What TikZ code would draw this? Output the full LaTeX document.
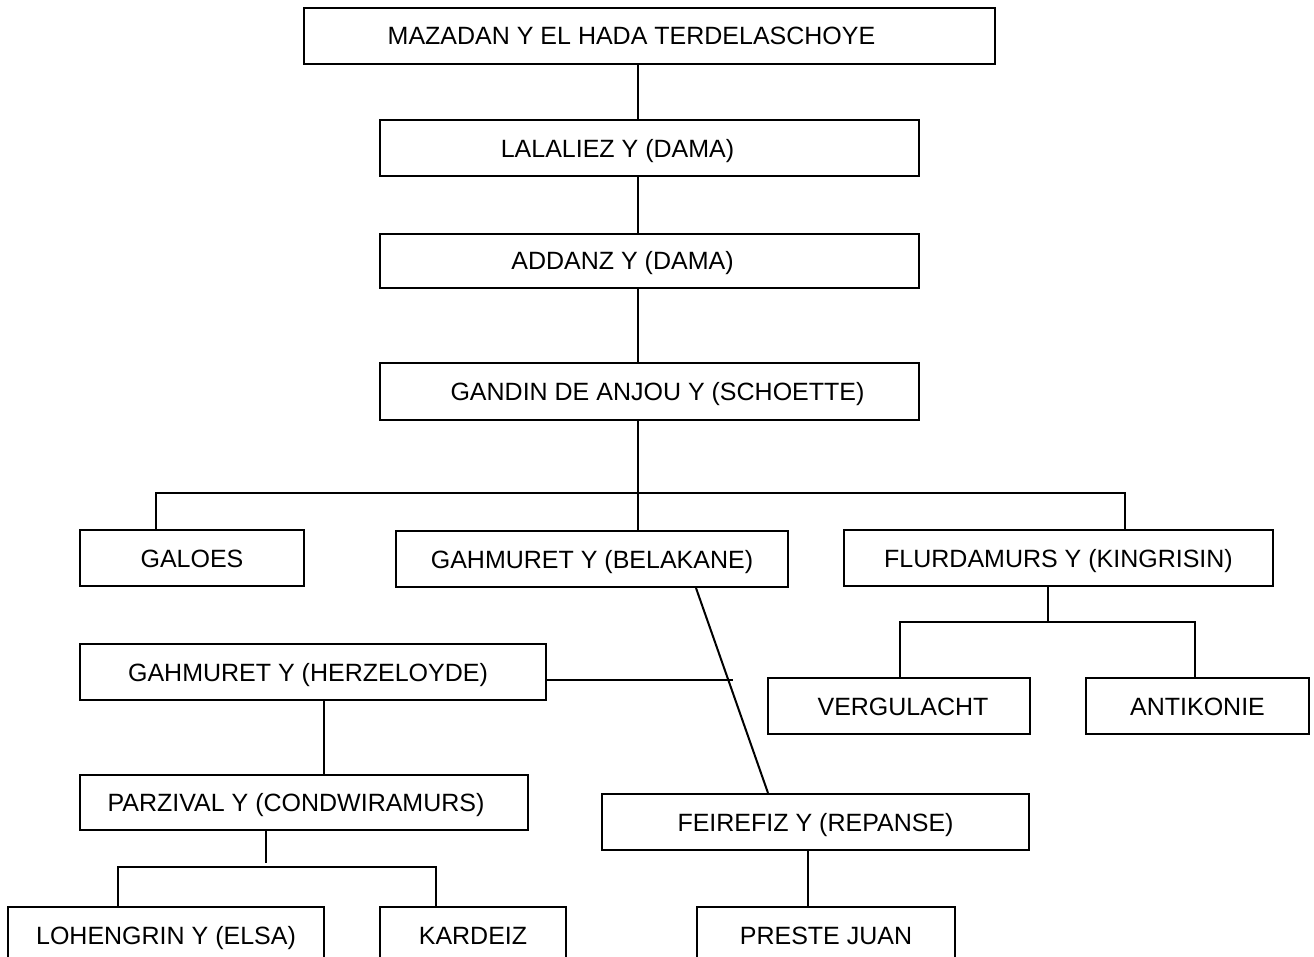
\documentclass[tikz,border=0pt]{standalone}
\usepackage{fontspec}
\setmainfont{Liberation Sans}
\usetikzlibrary{positioning}
\tikzset{
  person/.style = {draw, line width=2pt, inner sep=0pt, minimum height=56pt,
                   text height=18pt, text depth=0pt,
                   font=\fontsize{25}{30}\selectfont},
  link/.style   = {line width=2pt},
}

\begin{document}
\begin{tikzpicture}[x=1pt, y=-1pt]
  \useasboundingbox (0,0) rectangle (1314,957);

  % line of Mazadan
  \node[person, minimum width=691pt] (mazadan)  at (649.5,36)  {\hspace*{-36pt}MAZADAN Y EL HADA TERDELASCHOYE};
  \node[person, minimum width=539pt] (lalaliez) at (649.5,148.5) {\hspace*{-64pt}LALALIEZ Y (DAMA)};
  \node[person, minimum width=539pt, minimum height=54pt] (addanz) at (649.5,261) {\hspace*{-54pt}ADDANZ Y (DAMA)};
  \node[person, minimum width=539pt] (gandin)   at (649.5,391.5) {\hspace*{16pt}GANDIN DE ANJOU Y (SCHOETTE)};

  % children of Gandin
  \node[person, minimum width=224pt] (galoes)     at (192,558)    {GALOES};
  \node[person, minimum width=392pt] (belakane)   at (592,559)    {GAHMURET Y (BELAKANE)};
  \node[person, minimum width=429pt] (flurdamurs) at (1058.5,558) {FLURDAMURS Y (KINGRISIN)};

  % next generation
  \node[person, minimum width=466pt] (herzeloyde) at (313,672)    {\hspace*{-10pt}GAHMURET Y (HERZELOYDE)};
  \node[person, minimum width=262pt] (vergulacht) at (899,706)    {\hspace*{8pt}VERGULACHT};
  \node[person, minimum width=223pt] (antikonie)  at (1197.5,706) {ANTIKONIE};
  \node[person, minimum width=448pt, minimum height=55pt] (parzival) at (304,802.5) {\hspace*{-16pt}PARZIVAL Y (CONDWIRAMURS)};
  \node[person, minimum width=427pt] (feirefiz)   at (815.5,822)  {FEIREFIZ Y (REPANSE)};
  \node[person, minimum width=316pt] (lohengrin)  at (166,935)    {LOHENGRIN Y (ELSA)};
  \node[person, minimum width=186pt] (kardeiz)    at (473,935)    {KARDEIZ};
  \node[person, minimum width=258pt] (preste)     at (826,935)    {PRESTE JUAN};

  % trunk
  \coordinate (trunk) at (638,0);
  \draw[link] (mazadan.south -| trunk) -- (lalaliez.north -| trunk);
  \draw[link] (lalaliez.south -| trunk) -- (addanz.north -| trunk);
  \draw[link] (addanz.south -| trunk) -- (gandin.north -| trunk);
  \draw[link] (gandin.south -| trunk) -- (belakane.north -| trunk);

  % buses
  \coordinate (busA1) at (156,493);
  \coordinate (busA2) at (1125,493);
  \draw[link] (galoes.north -| busA1) -- (busA1) -- (busA2) -- (flurdamurs.north -| busA2);

  \coordinate (busB0) at (1048,622);
  \coordinate (busB1) at (900,622);
  \coordinate (busB2) at (1195,622);
  \draw[link] (flurdamurs.south -| busB0) -- (busB0);
  \draw[link] (vergulacht.north -| busB1) -- (busB1) -- (busB2) -- (antikonie.north -| busB2);

  \coordinate (stemC) at (324,0);
  \draw[link] (herzeloyde.south -| stemC) -- (parzival.north -| stemC);

  \coordinate (busD0) at (266,863);
  \coordinate (busD1) at (118,867);
  \coordinate (busD2) at (436,867);
  \draw[link] (parzival.south -| busD0) -- (busD0);
  \draw[link] (lohengrin.north -| busD1) -- (busD1) -- (busD2) -- (kardeiz.north -| busD2);

  % half brother
  \coordinate (hzEnd) at (733,680);
  \draw[link] (herzeloyde.east |- hzEnd) -- (hzEnd);
  \coordinate (diagA) at (696,0);
  \coordinate (diagB) at (768,0);
  \draw[link] (belakane.south -| diagA) -- (feirefiz.north -| diagB);
  \coordinate (stemE) at (808,0);
  \draw[link] (feirefiz.south -| stemE) -- (preste.north -| stemE);
\end{tikzpicture}
\end{document}
